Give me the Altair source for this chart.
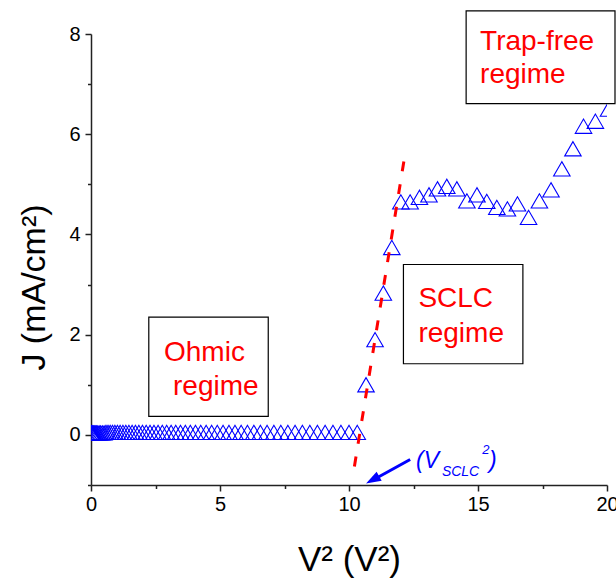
import altair as alt
import pandas as pd

# ---------------- data ----------------
# Ohmic regime (V^2 from 0 to ~10.3, J ~ 0.05 mA/cm2)
ohmic_x = [0.000, 0.004, 0.013, 0.026, 0.045, 0.069, 0.098, 0.131, 0.170, 0.214,
           0.263, 0.316, 0.375, 0.439, 0.508, 0.581, 0.660, 0.744, 0.833, 0.926,
           1.025, 1.129, 1.238, 1.351, 1.470, 1.594, 1.723, 1.856, 1.995, 2.139,
           2.288, 2.441, 2.600, 2.764, 2.933, 3.106, 3.285, 3.469, 3.658, 3.851,
           4.050, 4.254, 4.463, 4.676, 4.895, 5.119, 5.348, 5.581, 5.820, 6.064,
           6.313, 6.566, 6.825, 7.089, 7.358, 7.631, 7.910, 8.194, 8.483, 8.776,
           9.075, 9.379, 9.688, 10.001, 10.320]
ohmic_y = [0.04, 0.04, 0.04, 0.04, 0.04, 0.04, 0.04, 0.04, 0.04, 0.04,
           0.04, 0.04, 0.04, 0.04, 0.04, 0.05, 0.05, 0.05, 0.05, 0.05,
           0.05, 0.05, 0.05, 0.05, 0.05, 0.05, 0.05, 0.05, 0.05, 0.05,
           0.05, 0.05, 0.05, 0.05, 0.05, 0.05, 0.05, 0.05, 0.05, 0.05,
           0.05, 0.05, 0.05, 0.05, 0.05, 0.05, 0.05, 0.05, 0.05, 0.05,
           0.05, 0.05, 0.05, 0.05, 0.05, 0.05, 0.05, 0.05, 0.05, 0.05,
           0.05, 0.05, 0.05, 0.05, 0.05]
# SCLC regime
sclc_x = [10.66, 11.01, 11.33, 11.66]
sclc_y = [1.00, 1.90, 2.83, 3.74]
# plateau and trap-free regime
high_x = [12.01, 12.37, 12.73, 13.10, 13.43, 13.79, 14.18, 14.57, 14.96, 15.34,
          15.73, 16.14, 16.53, 16.96, 17.38, 17.83, 18.25, 18.68, 19.09, 19.55, 20.06]
high_y = [4.65, 4.65, 4.74, 4.79, 4.91, 4.96, 4.91, 4.67, 4.79, 4.66,
          4.54, 4.51, 4.61, 4.34, 4.67, 4.89, 5.31, 5.71, 6.16, 6.26, 6.50]

# red dashed SCLC fit line (end points)
fit_x = [10.21, 12.19]
fit_y = [-0.63, 5.66]

# axis ticks
x_ticks = [0, 2.5, 5, 7.5, 10, 12.5, 15, 17.5, 20]
y_ticks = [-1, 0, 1, 2, 3, 4, 5, 6, 7, 8]

# annotation boxes (data coordinates)
box_x = [2.24, 12.11, 14.54]
box_x2 = [6.87, 16.74, 20.31]
box_y = [0.37, 1.42, 6.61]
box_y2 = [2.35, 3.40, 8.46]

label_text = ["Ohmic", "regime", "SCLC", "regime", "Trap-free", "regime"]
label_x = [2.83, 3.18, 12.69, 12.69, 15.08, 15.08]
label_y = [1.47, 0.79, 2.545, 1.847, 7.686, 7.02]

# ---------------- tables ----------------
pts = pd.DataFrame({"x": ohmic_x + sclc_x + high_x,
                    "y": ohmic_y + sclc_y + high_y})
fit = pd.DataFrame({"x": fit_x, "y": fit_y})
boxes = pd.DataFrame({"x": box_x, "x2": box_x2, "y": box_y, "y2": box_y2})
labels = pd.DataFrame({"x": label_x, "y": label_y, "t": label_text})

arrow_line = pd.DataFrame({"x": [12.37], "y": [-0.49], "x2": [11.00], "y2": [-0.88]})
arrow_tip = pd.DataFrame({"x": [10.66], "y": [-0.97]})
vs_main = pd.DataFrame({"x": [12.60, 15.43], "y": [-0.66, -0.66], "t": ["(V", ")"]})
vs_sub = pd.DataFrame({"x": [13.60], "y": [-0.83], "t": ["SCLC"]})
vs_sup = pd.DataFrame({"x": [15.16], "y": [-0.39], "t": ["2"]})

FONT = "Liberation Sans"
BLUE = "#0000FF"
RED = "#FF0000"

xscale = alt.Scale(domain=[0, 20], nice=False, zero=False)
yscale = alt.Scale(domain=[-1, 8], nice=False, zero=False)

xaxis = alt.Axis(
    values=x_ticks, title="V² (V²)", grid=False,
    labelExpr="datum.value % 5 === 0 ? datum.label : ''",
    tickSize={"condition": {"test": "datum.value % 5 === 0", "value": 6}, "value": 3.5},
    labelFontSize=20, labelFont=FONT, labelColor="black", labelPadding=3,
    labelFlush=False, labelOverlap=False,
    titleFontSize=35, titleFont=FONT, titleFontWeight="normal", titleColor="black",
    titleY=85, titleBaseline="alphabetic",
    domainColor="#222222", tickColor="#222222", domainWidth=1.5, tickWidth=1.5,
)
yaxis = alt.Axis(
    values=y_ticks, title="J (mA/cm²)", grid=False,
    labelExpr="datum.value % 2 === 0 ? datum.label : ''",
    tickSize={"condition": {"test": "datum.value % 2 === 0", "value": 6}, "value": 3.5},
    labelFontSize=20, labelFont=FONT, labelColor="black", labelPadding=5,
    labelOverlap=False,
    titleFontSize=34, titleFont=FONT, titleFontWeight="normal", titleColor="black",
    titleAngle=270, titleX=-47, titleY=253, titleAlign="center", titleBaseline="alphabetic",
    domainColor="#222222", tickColor="#222222", domainWidth=1.5, tickWidth=1.5,
)

X = alt.X("x:Q", scale=xscale, axis=xaxis)
Y = alt.Y("y:Q", scale=yscale, axis=yaxis)

points = alt.Chart(pts).mark_point(
    shape="triangle-up", filled=False, stroke=BLUE, strokeWidth=1.1,
    size=272, opacity=1, clip=True
).encode(x=X, y=Y)

fit_line = alt.Chart(fit).mark_line(
    color=RED, strokeWidth=3, strokeDash=[10, 13]
).encode(x=X, y=Y)

rects = alt.Chart(boxes).mark_rect(
    fill="white", stroke="black", strokeWidth=1.2
).encode(x=X, x2="x2:Q", y=Y, y2="y2:Q")

texts = alt.Chart(labels).mark_text(
    align="left", baseline="alphabetic", font=FONT, fontSize=28, color=RED
).encode(x=X, y=Y, text="t:N")

arrow = alt.Chart(arrow_line).mark_rule(color=BLUE, strokeWidth=3).encode(
    x=X, y=Y, x2="x2:Q", y2="y2:Q")

head = alt.Chart(arrow_tip).mark_point(
    shape="M0,0L0.7,2L-0.7,2Z", filled=True, fill=BLUE, stroke=BLUE,
    strokeWidth=0, size=225, angle=241, opacity=1
).encode(x=X, y=Y)

t_main = alt.Chart(vs_main).mark_text(
    align="left", baseline="alphabetic", font=FONT, fontSize=23,
    fontStyle="italic", color=BLUE
).encode(x=X, y=Y, text="t:N")
t_sub = alt.Chart(vs_sub).mark_text(
    align="left", baseline="alphabetic", font=FONT, fontSize=14,
    fontStyle="italic", color=BLUE
).encode(x=X, y=Y, text="t:N")
t_sup = alt.Chart(vs_sup).mark_text(
    align="left", baseline="alphabetic", font=FONT, fontSize=13,
    fontStyle="italic", color=BLUE
).encode(x=X, y=Y, text="t:N")

chart = alt.layer(
    points, fit_line, rects, texts, arrow, head, t_main, t_sub, t_sup
).properties(
    width=516, height=451,
    padding={"left": 91, "top": 34, "right": 9, "bottom": 93},
    autosize=alt.AutoSizeParams(type="none"),
    background="white",
).configure_view(strokeWidth=0)

chart.save("out.html", embed_options={"renderer": "svg", "actions": False})
